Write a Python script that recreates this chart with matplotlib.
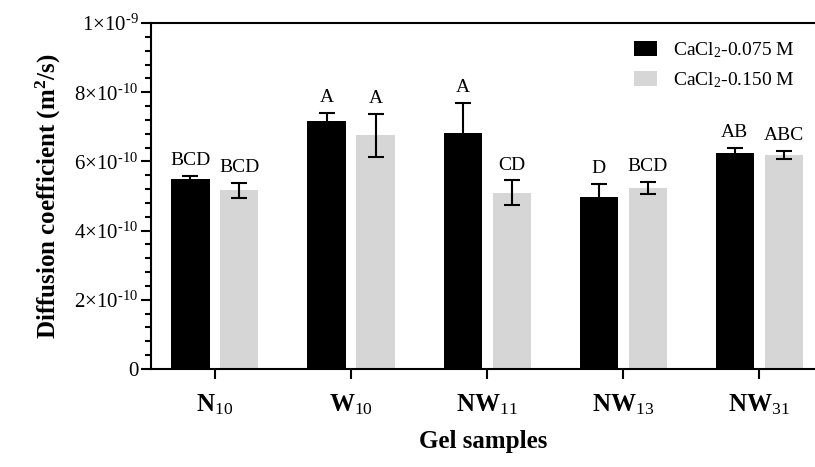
import matplotlib
matplotlib.use('Agg')
import matplotlib.pyplot as plt
import numpy as np
from matplotlib.ticker import MultipleLocator, FuncFormatter

# Data
samples = [r'$\mathbf{N}_{10}$', r'$\mathbf{W}_{10}$', r'$\mathbf{NW}_{11}$',
           r'$\mathbf{NW}_{13}$', r'$\mathbf{NW}_{31}$']
d_075 = [5.49e-10, 7.18e-10, 6.81e-10, 4.96e-10, 6.25e-10]
err_075 = [0.09e-10, 0.21e-10, 0.89e-10, 0.39e-10, 0.14e-10]
d_150 = [5.17e-10, 6.76e-10, 5.10e-10, 5.23e-10, 6.18e-10]
err_150 = [0.22e-10, 0.62e-10, 0.35e-10, 0.17e-10, 0.12e-10]
letters_075 = ['BCD', 'A', 'A', 'D', 'AB']
letters_150 = ['BCD', 'A', 'CD', 'BCD', 'ABC']

plt.rcParams['font.family'] = 'Liberation Serif'
plt.rcParams['mathtext.fontset'] = 'custom'
plt.rcParams['mathtext.rm'] = 'Liberation Serif'
plt.rcParams['mathtext.it'] = 'Liberation Serif:italic'
plt.rcParams['mathtext.bf'] = 'Liberation Serif:bold'

fig = plt.figure(figsize=(8.15, 4.67), dpi=100)
ax = fig.add_axes([151 / 815, 98 / 467, 1 - 151 / 815, 346 / 467])

x = np.arange(len(samples))
w = 0.28
off = 0.18
ax.bar(x - off, d_075, w, color='black', label=r'CaCl$_2$-0.075 M', zorder=2)
ax.bar(x + off, d_150, w, color='#d6d6d6', label=r'CaCl$_2$-0.150 M', zorder=2)
ax.errorbar(x - off, d_075, yerr=err_075, fmt='none', ecolor='black',
            elinewidth=1.5, capsize=6, capthick=1.5, zorder=3)
ax.errorbar(x + off, d_150, yerr=err_150, fmt='none', ecolor='black',
            elinewidth=1.5, capsize=6, capthick=1.5, zorder=3)

# significance letters above the error bars
for i in range(len(samples)):
    ax.text(x[i] - off, d_075[i] + err_075[i] + 0.2e-10, letters_075[i],
            ha='center', va='bottom', fontsize=14)
    ax.text(x[i] + off, d_150[i] + err_150[i] + 0.2e-10, letters_150[i],
            ha='center', va='bottom', fontsize=14)

ax.set_xlim(-0.47, 4.41)
ax.set_ylim(0, 1e-9)
ax.set_xticks(x)
ax.set_xticklabels(samples, fontsize=18)
ax.yaxis.set_major_locator(MultipleLocator(2e-10))
ax.yaxis.set_minor_locator(MultipleLocator(0.4e-10))


def sci_fmt(v, pos):
    if v == 0:
        return '0'
    exp = int(np.floor(np.log10(abs(v)) + 1e-9))
    mant = v / 10 ** exp
    return r'$%d{\times}10^{\text{-}%d}$' % (round(mant), -exp)


ax.yaxis.set_major_formatter(FuncFormatter(sci_fmt))
ax.tick_params(axis='y', which='major', labelsize=15, length=7, width=1.5, pad=2)
ax.tick_params(axis='y', which='minor', length=4, width=1.5)
ax.tick_params(axis='x', length=7, width=1.5, pad=10)
for s in ['left', 'bottom', 'top']:
    ax.spines[s].set_linewidth(1.5)
ax.spines['right'].set_visible(False)

ax.set_ylabel(r'Diffusion coefficient (m$^{\mathbf{2}}$/s)', fontsize=18,
              fontweight='bold', labelpad=8)
ax.set_xlabel('Gel samples', fontsize=18, fontweight='bold', labelpad=9)

ax.legend(loc='upper right', bbox_to_anchor=(0.995, 1.0), frameon=False,
          fontsize=14, handlelength=1.2, handleheight=0.8, labelspacing=0.5,
          handletextpad=0.8)

plt.savefig('out.png', dpi=100)
plt.close()
